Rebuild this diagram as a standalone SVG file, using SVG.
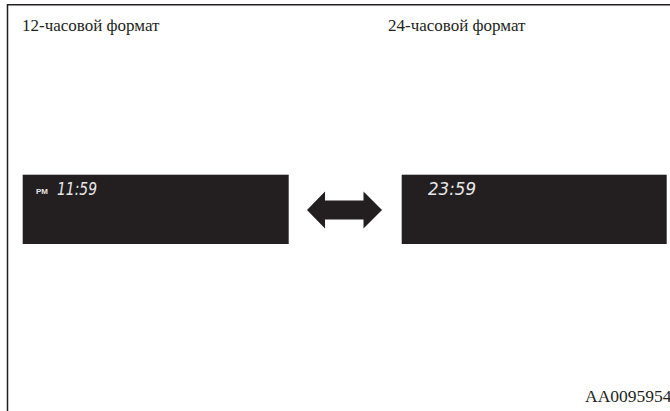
<svg xmlns="http://www.w3.org/2000/svg" width="670" height="411" viewBox="0 0 670 411">
<style>
.lbl{font-family:"Liberation Serif","Times New Roman",serif;font-size:17px;fill:#231f20}
.code{font-family:"Liberation Serif","Times New Roman",serif;font-size:17.5px;fill:#231f20}
.panel{fill:#231f20}
.lcd{font-family:"DejaVu Sans","Liberation Sans",sans-serif;font-style:italic;font-size:18px;fill:#e8e8e8}
.pm{font-family:"Liberation Sans","DejaVu Sans",sans-serif;font-size:7px;font-weight:bold;fill:#e8e8e8}
</style>
<rect width="670" height="411" fill="#fff"/>
<path d="M7.5 411 V4.7 H670" fill="none" stroke="#231f20" stroke-width="1.5"/>
<text class="lbl" x="22" y="31">12-часовой формат</text>
<text class="lbl" x="388" y="31">24-часовой формат</text>
<g id="display12">
<rect class="panel" x="22.7" y="174.7" width="266" height="69.3"/>
<text class="pm" x="36" y="194" textLength="12" lengthAdjust="spacingAndGlyphs">PM</text>
<text class="lcd" x="57" y="194.5" textLength="40" lengthAdjust="spacingAndGlyphs">11:59</text>
</g>
<g id="display24">
<rect class="panel" x="401.7" y="174.7" width="265" height="69.3"/>
<text class="lcd" x="428" y="194.5" textLength="48" lengthAdjust="spacingAndGlyphs">23:59</text>
</g>
<g id="connectors">
<path d="M307 210 L325 191.5 V200.5 H363.5 V191.5 L382 210 L363.5 228.5 V219.5 H325 V228.5 Z" fill="#231f20"/>
</g>
<text class="code" x="585" y="402">AA0095954</text>
</svg>
